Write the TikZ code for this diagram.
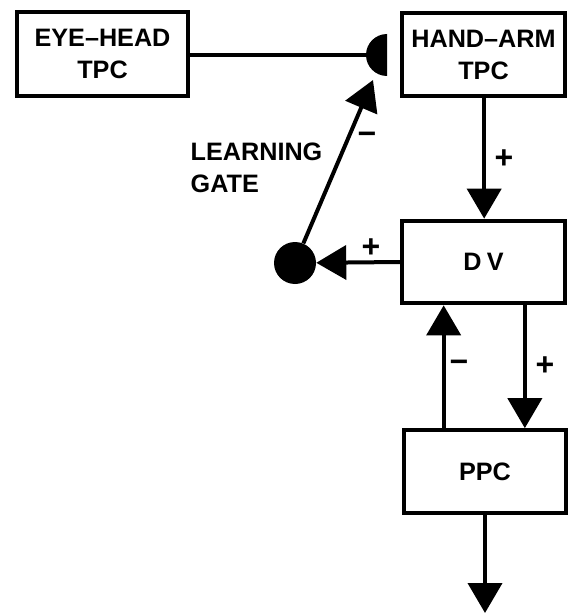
\documentclass[tikz,border=0pt]{standalone}
\usepackage{fontspec}
\setmainfont{Liberation Sans}
\usetikzlibrary{arrows.meta}

\begin{document}
\begin{tikzpicture}[
  x=0.75pt, y=-0.75pt,
  label font/.style={font=\bfseries\fontsize{18.9}{24}\selectfont},
  stagebox/.style={draw, line width=3pt, label font, align=center,
    minimum width=122pt, minimum height=62pt, inner sep=0pt},
  cell/.style={circle, fill, minimum size=31.5pt, inner sep=0pt},
  sig/.style={line width=3pt, -{Triangle[length=22.5pt, width=25.5pt]}},
  sign/.style={font=\bfseries\fontsize{24}{24}\selectfont, inner sep=0pt}
]
  \useasboundingbox (0,0) rectangle (570,613);

  % boxes
  \node[stagebox, minimum width=128pt, minimum height=63pt] (eyehead) at (102.5,54) {EYE--HEAD\\TPC};
  \node[stagebox] (handarm) at (483.5,54.5) {HAND--ARM\\TPC};
  \node[stagebox] (dv) at (483.5,262) {D\kern4pt V};
  \node[stagebox] (ppc) at (485,471.5) {PPC};

  % learning gate: half-disc synapse and gating cell
  \fill (387,76) arc[start angle=90, end angle=270, radius=21] -- cycle;
  \coordinate (gate) at (366,55);
  \coordinate (gatein) at (373,80);
  \node[cell] (gatecell) at (295,263) {};
  \node[label font, align=left, anchor=north west] (gatetext) at (186,138) {LEARNING\\GATE};

  % connections
  \draw[line width=2.6pt] (eyehead.east |- gate) -- (gate);
  \draw[sig] ([xshift=0.5pt]handarm.south) -- ([xshift=0.5pt]handarm.south |- dv.north);
  \draw[sig] (dv.west) -- (gatecell);
  \draw[sig] (gatecell) -- (gatein);
  \draw[sig] ([xshift=31pt]dv.south) -- ([xshift=31pt]dv.south |- ppc.north);
  \draw[sig] ([xshift=-31pt]ppc.north) -- ([xshift=-31pt]ppc.north |- dv.south);
  \coordinate (out) at (486,613);
  \draw[sig] (ppc.south) -- (ppc.south |- out);

  % signs
  \node[sign] (s1) at (504,159) {+};
  \node[sign] (s2) at (371,248) {+};
  \node[sign] (s3) at (367,138) {−};
  \node[sign] (s4) at (459,366) {−};
  \node[sign] (s5) at (545,366) {+};
\end{tikzpicture}
\end{document}
